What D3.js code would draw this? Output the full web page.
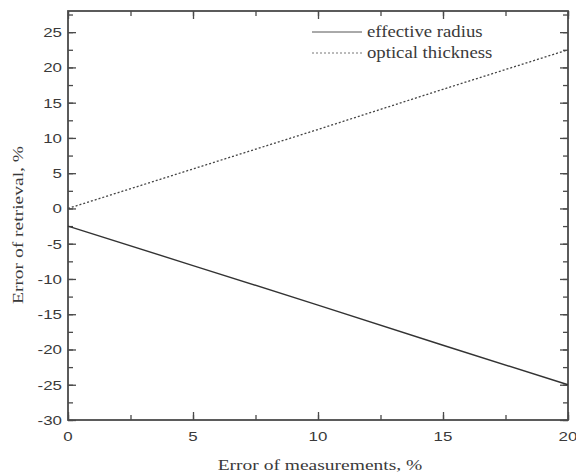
<!DOCTYPE html>
<html>
<head>
<meta charset="utf-8">
<script src="https://cdn.jsdelivr.net/npm/d3@7"></script>
<style>
  body { margin: 0; background: #fff; }
  svg text { fill: #3a3a3a; }
</style>
</head>
<body>
<svg id="chart" width="576" height="474"></svg>
<script>
// values
var measErr = [0, 5, 10, 15, 20];
var radiusErr = [-2.5, -8.1, -13.7, -19.4, -25];
var thickErr = [0, 5.6, 11.2, 16.9, 22.5];
var xTicks = [0, 5, 10, 15, 20];
var yTicks = [-30, -25, -20, -15, -10, -5, 0, 5, 10, 15, 20, 25];
var seriesNames = ["effective radius", "optical thickness"];

(function(){
var svg = d3.select("#chart");
var mLeft = 68, mRight = 568, mTop = 11, mBottom = 420;

var x = d3.scaleLinear().domain([0, 20]).range([mLeft, mRight]);
var y = d3.scaleLinear().domain([-30, 28]).range([mBottom, mTop]);

var ink = "#4a4a4a";
var sansFont = "13px 'Liberation Sans', Arial, sans-serif";
var serifFont = "15px 'Liberation Serif', 'Times New Roman', serif";

// the original text is drawn wider than the fonts we have, stretch it
function stretch(sel, k){
  sel.each(function(){
    var w = this.getComputedTextLength();
    d3.select(this).attr("textLength", w * k).attr("lengthAdjust", "spacingAndGlyphs");
  });
}

// axes - ticks pointing inward, mirrored on top / right
var xMinor = d3.range(0, 20.01, 2.5);
var yMinor = d3.range(-30, 28, 2.5);

function ticks(axis, tr, vals, size){
  svg.append("g").attr("transform", tr)
    .call(axis.tickValues(vals).tickSize(size).tickFormat(""));
}
ticks(d3.axisTop(x), "translate(0," + mBottom + ")", xMinor, 5);
ticks(d3.axisTop(x), "translate(0," + mBottom + ")", xTicks, 8);
ticks(d3.axisBottom(x), "translate(0," + mTop + ")", xMinor, 5);
ticks(d3.axisBottom(x), "translate(0," + mTop + ")", xTicks, 8);
ticks(d3.axisRight(y), "translate(" + mLeft + ",0)", yMinor, 5);
ticks(d3.axisRight(y), "translate(" + mLeft + ",0)", yTicks, 8);
ticks(d3.axisLeft(y), "translate(" + mRight + ",0)", yMinor, 5);
ticks(d3.axisLeft(y), "translate(" + mRight + ",0)", yTicks, 8);

svg.selectAll(".domain").remove();
svg.selectAll(".tick line").attr("stroke", ink).attr("stroke-width", 1.3);

svg.append("rect")
  .attr("x", mLeft).attr("y", mTop)
  .attr("width", mRight - mLeft).attr("height", mBottom - mTop)
  .attr("fill", "none").attr("stroke", ink).attr("stroke-width", 1.8);

// tick labels
svg.selectAll(".xlab").data(xTicks).enter().append("text")
  .attr("class", "xlab")
  .attr("x", function(d){ return x(d); })
  .attr("y", mBottom + 21)
  .attr("text-anchor", "middle")
  .style("font", sansFont)
  .text(function(d){ return d; })
  .call(stretch, 1.3);

svg.selectAll(".ylab").data(yTicks).enter().append("text")
  .attr("class", "ylab")
  .attr("x", mLeft - 6)
  .attr("y", function(d){ return y(d) + 5; })
  .attr("text-anchor", "end")
  .style("font", sansFont)
  .text(function(d){ return d; })
  .call(stretch, 1.3);

// axis titles
svg.append("text")
  .attr("x", 320).attr("y", 470)
  .attr("text-anchor", "middle")
  .style("font", serifFont)
  .text("Error of measurements, %")
  .call(stretch, 1.3);

svg.append("text")
  .attr("transform", "translate(23,225) rotate(-90)")
  .attr("text-anchor", "middle")
  .style("font", serifFont)
  .text("Error of retrieval, %")
  .call(stretch, 1.3);

// lines
var line = d3.line();
svg.append("path")
  .attr("d", line(measErr.map(function(d, i){ return [x(d), y(radiusErr[i])]; })))
  .attr("fill", "none").attr("stroke", "#333").attr("stroke-width", 1.4);
svg.append("path")
  .attr("d", line(measErr.map(function(d, i){ return [x(d), y(thickErr[i])]; })))
  .attr("fill", "none").attr("stroke", "#444").attr("stroke-width", 1.3)
  .attr("stroke-dasharray", "2,2");

// legend
var leg = svg.append("g");
seriesNames.forEach(function(name, i){
  var ly = 32 + i * 21;
  leg.append("line")
    .attr("x1", 312).attr("x2", 362).attr("y1", ly).attr("y2", ly)
    .attr("stroke", i == 0 ? "#555" : "#777").attr("stroke-width", 1)
    .attr("stroke-dasharray", i == 0 ? null : "2,2");
  leg.append("text")
    .attr("x", 367).attr("y", ly + 5)
    .style("font", "16px 'Liberation Serif', 'Times New Roman', serif")
    .text(name)
    .call(stretch, 1.17);
});
})();
</script>
</body>
</html>
